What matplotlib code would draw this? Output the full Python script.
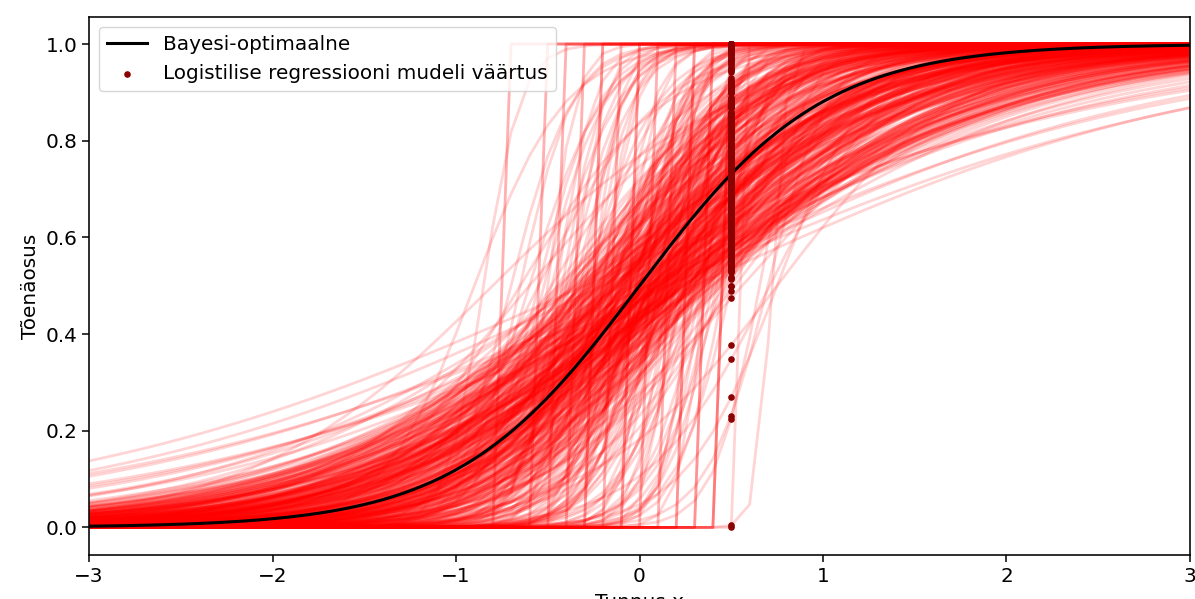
import numpy as np
from matplotlib import pyplot as plt

# fitted logistic regression models: centre (-intercept/slope) and slope
centers = [
    0.05, -0.12, 0.21, -0.03, 0.14, -0.27, 0.08, 0.31, -0.18, 0.02,
    -0.09, 0.17, -0.35, 0.11, 0.26, -0.06, 0.38, -0.22, 0.04, 0.19,
    -0.15, 0.09, -0.01, 0.28, -0.31, 0.13, -0.08, 0.22, 0.45, -0.19,
    0.07, -0.24, 0.16, -0.04, 0.33, -0.13, 0.01, 0.24, -0.42, 0.12,
    -0.07, 0.29, -0.16, 0.06, -0.29, 0.18, 0.41, -0.02, 0.10, -0.21,
    0.23, -0.11, 0.03, 0.36, -0.26, 0.15, -0.05, 0.20, -0.38, 0.08,
    0.27, -0.14, 0.00, 0.12, -0.33, 0.25, -0.10, 0.05, 0.48, -0.20,
    0.10, -0.03, 0.30, -0.17, 0.14, -0.48, 0.02, 0.21, -0.09, 0.35,
    -0.25, 0.07, 0.16, -0.12, 0.40, -0.01, 0.11, -0.30, 0.26, 0.04,
    -0.08, 0.19, -0.40, 0.09, 0.32, -0.15, 0.01, 0.24, -0.22, 0.13,
    0.52, -0.05, 0.17, -0.28, 0.06, 0.29, -0.13, 0.11, -0.55, 0.20,
    -0.02, 0.34, -0.19, 0.08, -0.36, 0.15, 0.43, -0.07, 0.03, 0.27,
    -0.11, 0.22, -0.26, 0.12, 0.00, 0.37, -0.16, 0.05, -0.32, 0.18,
    0.09, -0.21, 0.30, -0.04, 0.14, -0.45, 0.23, 0.02, -0.14, 0.39,
    -0.06, 0.16, -0.34, 0.10, 0.25, -0.09, 0.50, -0.23, 0.07, 0.20,
    0.12, -0.18, 0.04, 0.31, -0.28, 0.17, -0.01, 0.26, -0.60, 0.08,
    -0.13, 0.21, 0.00, -0.37, 0.14, 0.35, -0.08, 0.06, 0.28, -0.20,
    0.03, 0.18, -0.30, 0.11, -0.05, 0.42, -0.16, 0.24, 0.09, -0.10,
    0.56, -0.24, 0.13, -0.02, 0.30, -0.43, 0.19, 0.07, -0.12, 0.22,
    -0.07, 0.15, -0.27, 0.36, 0.01, -0.17, 0.10, 0.27, -0.33, 0.05,
    0.02, -0.15, 0.18, -0.06, 0.27, -0.21, 0.11, -0.02, 0.33, -0.10,
    0.07, -0.26, 0.14, 0.00, -0.33, 0.22, -0.08, 0.39, -0.17, 0.05,
    -0.04, 0.16, -0.23, 0.29, 0.09, -0.12, 0.21, -0.38, 0.03, 0.12,
    0.25, -0.19, 0.06, -0.29, 0.17, -0.01, 0.34, -0.14, 0.10, -0.05,
    -0.22, 0.13, 0.28, -0.09, 0.04, -0.35, 0.19, 0.08, -0.16, 0.31,
    0.00, -0.11, 0.23, -0.27, 0.15, -0.03, 0.37, -0.20, 0.06, 0.18,
    -0.13, 0.26, -0.07, 0.11, -0.31, 0.02, 0.20, -0.18, 0.44, -0.04,
    0.14, -0.24, 0.09, 0.32, -0.10, 0.01, -0.40, 0.24, -0.06, 0.16,
    -0.15, 0.07, 0.27, -0.02, -0.28, 0.12, 0.35, -0.12, 0.04, 0.21,
    0.10, -0.20, 0.00, 0.30, -0.08, 0.17, -0.36, 0.06, 0.23, -0.14,
    -0.03, 0.19, -0.25, 0.08, 0.40, -0.10, 0.13, -0.18, 0.28, 0.03,
    0.22, -0.07, -0.32, 0.15, 0.01, 0.33, -0.16, 0.09, -0.23, 0.12,
    -0.01, 0.25, -0.13, 0.05, -0.44, 0.18, 0.47, -0.05, 0.11, -0.26,
    0.29, -0.09, 0.07, -0.19, 0.20, 0.36, -0.11, 0.02, -0.30, 0.14,
    -0.06, 0.24, -0.17, 0.10, 0.31, -0.22, 0.05, -0.02, 0.17, -0.12,
    # steeper fits
    -0.55, -0.40, -0.30, -0.20, -0.10, 0.00, 0.10, 0.20, 0.30, 0.40,
    -0.45, -0.35, -0.25, -0.15, -0.05, 0.05, 0.15, 0.25, 0.35, 0.42,
    -0.60, -0.50, -0.38, -0.28, -0.12, 0.08, 0.18, 0.32, 0.46, 0.50,
    -0.42, -0.22, -0.08, 0.03, 0.12, 0.28, 0.38, -0.32, -0.18, 0.22,
    -0.65, -0.48, -0.36, -0.26, -0.02, 0.14, 0.24, 0.36, 0.44, 0.10,
    -0.52, -0.30, -0.14, 0.06, 0.20, 0.30, -0.20, 0.00, 0.16, 0.34,
    # flat fits
    -0.30, 0.30, -0.20, 0.15, -0.10,
    # fits far from the truth
    -0.80, -0.90, -0.85, -0.65, -0.70,
    0.75, 0.71, 0.75, 0.70, 0.655, 0.72,
    # separable samples
    -0.75, -0.55, -0.45, -0.35, -0.25, -0.15, -0.05, 0.05, 0.15, 0.25,
    0.35, 0.45, 0.45, 0.35, -0.05, 0.55,
    -0.45, -0.35, -0.25, -0.15, -0.05, 0.05, 0.15, 0.25, 0.35, 0.45,
    -0.55, -0.75, 0.45, 0.25, -0.25,
]
slopes = [
    2.1, 1.6, 2.8, 1.2, 3.4, 1.9, 2.4, 1.4, 2.0, 5.1,
    1.8, 2.6, 1.1, 3.9, 1.7, 2.2, 2.9, 1.5, 0.8, 2.3,
    3.1, 1.3, 2.5, 2.0, 1.6, 6.2, 1.9, 2.7, 1.5, 2.4,
    1.0, 2.2, 1.8, 4.4, 2.1, 1.4, 3.0, 1.2, 1.7, 2.6,
    2.9, 1.7, 3.6, 1.5, 2.0, 2.3, 1.9, 7.5, 1.1, 2.5,
    1.6, 3.2, 2.0, 1.3, 2.7, 0.9, 4.1, 1.8, 1.9, 2.2,
    2.4, 1.5, 3.3, 1.7, 2.1, 1.2, 2.6, 0.7, 2.8, 3.7,
    1.9, 2.3, 1.6, 2.9, 5.6, 2.5, 1.4, 2.0, 3.4, 1.8,
    1.3, 2.7, 2.2, 1.8, 1.5, 3.1, 0.95, 2.4, 2.0, 4.8,
    2.6, 1.6, 2.3, 1.9, 2.5, 3.5, 1.7, 1.1, 2.8, 2.1,
    2.0, 4.3, 1.5, 2.2, 1.8, 2.9, 1.3, 2.6, 3.0, 1.4,
    3.6, 1.9, 2.4, 1.0, 2.2, 2.0, 1.8, 6.8, 1.6, 2.3,
    2.7, 1.5, 3.2, 2.1, 1.2, 1.7, 2.5, 3.9, 1.6, 2.8,
    1.4, 2.4, 1.9, 3.0, 2.2, 2.1, 1.3, 2.6, 4.6, 1.5,
    2.3, 0.75, 2.6, 1.8, 3.3, 2.0, 2.4, 1.7, 2.9, 1.6,
    2.0, 2.9, 1.5, 2.5, 1.4, 4.0, 2.2, 1.9, 1.8, 3.1,
    1.7, 2.1, 8.4, 2.3, 1.6, 1.9, 2.7, 3.4, 1.2, 2.5,
    1.9, 3.7, 1.4, 2.0, 2.6, 1.6, 2.2, 1.3, 2.4, 3.0,
    1.7, 2.8, 2.1, 1.5, 2.3, 1.9, 5.3, 2.0, 1.6, 1.1,
    2.5, 1.8, 3.0, 1.6, 2.2, 2.7, 0.85, 2.1, 2.3, 1.4,
    1.4, 1.2, 1.8, 1.0, 2.2, 1.5, 1.3, 1.7, 1.1, 2.6,
    1.6, 1.2, 2.0, 1.4, 1.0, 1.9, 3.0, 1.3, 1.5, 1.1,
    1.8, 1.2, 2.4, 1.6, 1.0, 1.4, 1.3, 1.9, 1.7, 2.8,
    1.1, 1.5, 1.2, 2.1, 1.4, 3.5, 1.0, 1.6, 1.3, 1.9,
    1.2, 1.7, 1.4, 2.3, 1.1, 1.5, 1.3, 4.2, 1.8, 1.2,
    1.6, 1.3, 1.0, 1.4, 2.5, 1.2, 1.5, 1.1, 1.9, 1.4,
    2.0, 1.3, 1.6, 1.1, 1.8, 2.9, 1.2, 1.5, 1.9, 1.0,
    1.7, 1.4, 3.2, 1.2, 1.3, 1.6, 1.5, 1.1, 2.2, 1.4,
    1.3, 1.8, 1.0, 1.5, 1.9, 1.2, 1.4, 2.7, 1.6, 1.1,
    1.5, 1.2, 2.1, 1.3, 1.7, 1.0, 1.4, 3.8, 1.2, 1.6,
    1.1, 1.9, 1.3, 1.5, 1.2, 2.4, 1.0, 1.7, 1.4, 1.3,
    1.6, 1.2, 1.8, 1.1, 5.0, 1.3, 1.5, 2.0, 1.2, 1.4,
    1.9, 1.1, 1.6, 1.3, 1.5, 1.2, 2.1, 1.4, 1.0, 1.7,
    1.3, 2.6, 1.5, 1.2, 1.1, 1.4, 1.8, 1.6, 1.3, 1.0,
    1.5, 1.2, 2.3, 1.4, 1.1, 1.6, 1.3, 6.5, 1.7, 1.2,
    6.0, 8.0, 5.0, 12.0, 7.0, 4.5, 9.0, 5.5, 11.0, 7.0,
    10.0, 6.5, 14.0, 5.0, 8.5, 4.2, 12.0, 6.0, 9.5, 7.5,
    5.0, 13.0, 7.0, 4.8, 10.0, 6.0, 15.0, 5.2, 8.0, 6.5,
    9.0, 4.6, 11.0, 7.2, 5.8, 13.0, 6.2, 8.8, 4.4, 10.0,
    7.0, 5.5, 12.0, 9.0, 6.8, 4.3, 8.0, 14.0, 5.6, 11.0,
    6.0, 9.5, 4.9, 12.5, 7.4, 5.1, 10.5, 8.2, 4.7, 6.6,
    0.68, 0.70, 0.72, 0.66, 0.90,
    1.5, 4.0, 10.0, 2.5, 6.0,
    2.0, 3.0, 4.0, 6.0, 8.0, 25.0,
    300, 300, 300, 300, 300, 300, 300, 300, 300, 300,
    300, 300, 300, 300, 300, 300,
    300, 300, 300, 300, 300, 300, 300, 300, 300, 300,
    300, 300, 300, 300, 300,
]

# Bayes-optimal model
true_center = 0.0
true_slope = 2.0
x_query = 0.5

x = np.linspace(-3, 3, 61)
x_fine = np.linspace(-3, 3, 400)


def sigmoid(z):
    return 1 / (1 + np.exp(-z))


fig = plt.figure(figsize=(11.95, 5.99), dpi=100)
ax = fig.add_axes([0.0745, 0.0735, 0.9213, 0.8982])

for c, b in zip(centers, slopes):
    ax.plot(x, sigmoid(b * (x - c)), color="red", alpha=0.17, lw=2.0)

ax.plot(x_fine, sigmoid(true_slope * (x_fine - true_center)), color="black",
        lw=2.2, label="Bayesi-optimaalne", zorder=5)

p_query = [sigmoid(b * (x_query - c)) for c, b in zip(centers, slopes)]
ax.scatter([x_query] * len(p_query), p_query, color="darkred", s=14,
           label="Logistilise regressiooni mudeli väärtus", zorder=6)

ax.set_xlim(-3, 3)
ax.set_ylim(-0.057, 1.056)
ax.set_xticks([-3, -2, -1, 0, 1, 2, 3])
ax.set_yticks([0.0, 0.2, 0.4, 0.6, 0.8, 1.0])
ax.tick_params(labelsize=14.4, length=5, width=1.1)
for s in ax.spines.values():
    s.set_linewidth(1.15)
ax.set_xlabel("Tunnus x", fontsize=14.4, labelpad=5)
ax.set_ylabel("Tõenäosus", fontsize=14.4)
ax.legend(loc="upper left", fontsize=14.4)

plt.savefig("out.png", dpi=100)
